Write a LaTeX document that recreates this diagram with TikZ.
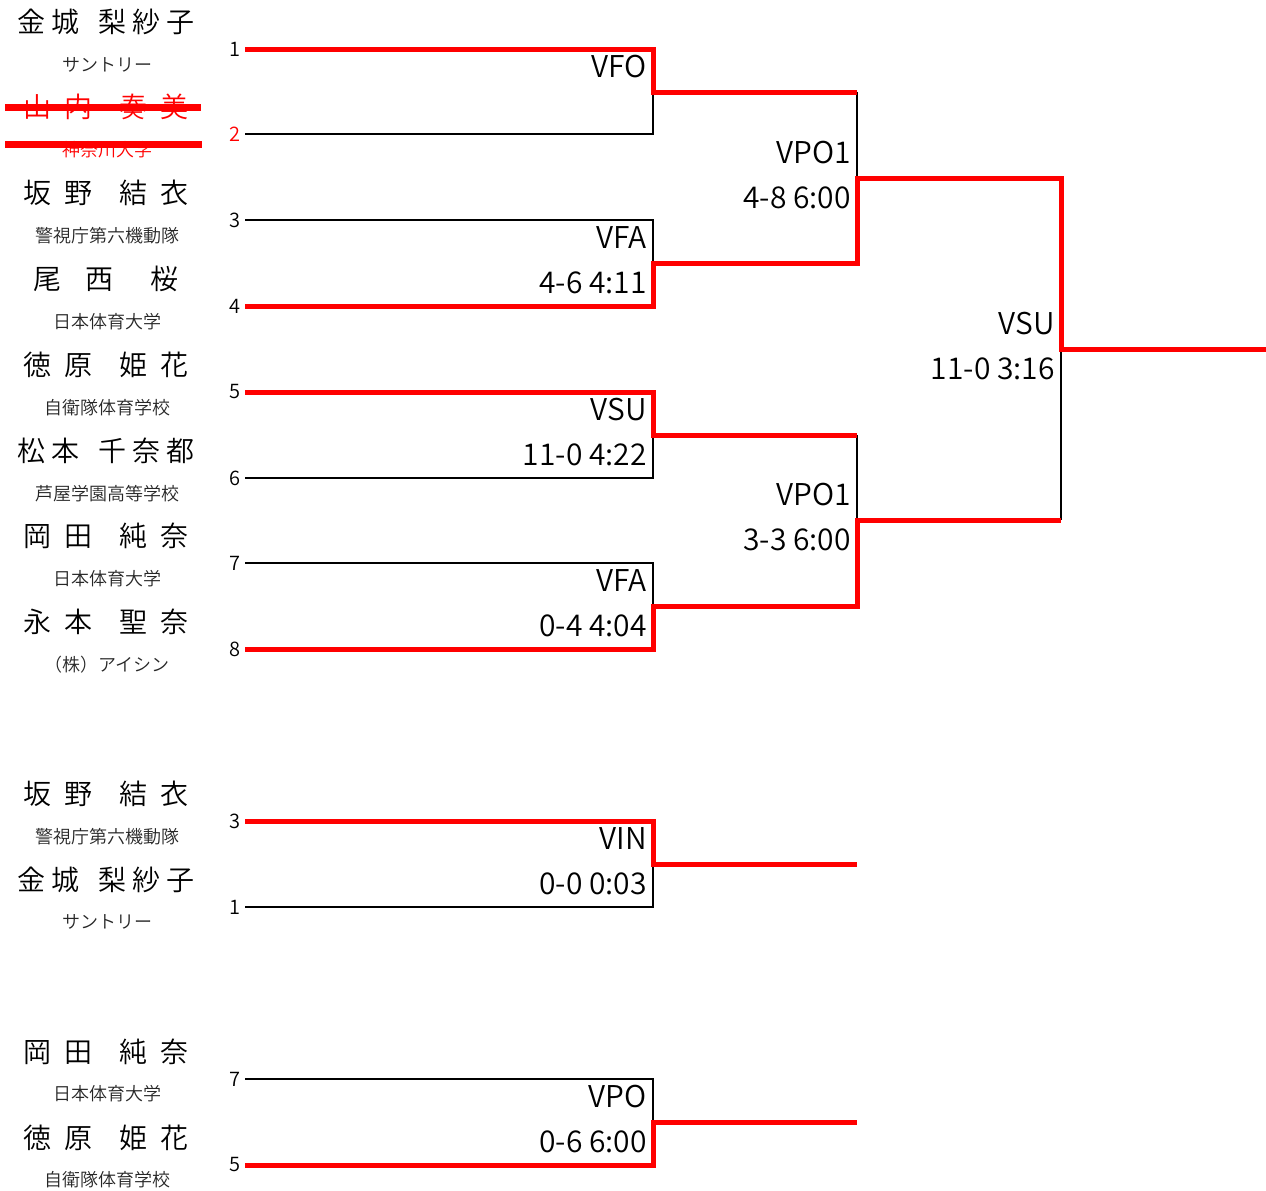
\documentclass[tikz,border=0pt]{standalone}
\usepackage{fontspec}
\IfFontExistsTF{Noto Sans CJK JP DemiLight}
  {\setmainfont{Noto Sans CJK JP DemiLight}}
  {\IfFontExistsTF{Noto Sans CJK JP Light}
     {\setmainfont{Noto Sans CJK JP Light}}
     {\setmainfont{Noto Sans CJK JP}}}
\usetikzlibrary{positioning}

\newcommand{\pn}[2]{\makebox[#1pt]{#2}}

\begin{document}
\begin{tikzpicture}[
        x=1pt, y=-1pt,
        node distance=4pt,
        pname/.style={font=\fontsize{28}{30}\selectfont, inner sep=0pt},
        club/.style={font=\fontsize{18}{20}\selectfont, inner sep=0pt, text=black!85},
        seed/.style={font=\fontsize{20}{22}\selectfont, inner sep=0pt},
        res/.style={font=\fontsize{30}{32}\selectfont, inner sep=0pt},
        lose/.style={line width=1.6pt, black},
        win/.style={line width=5pt, red},
        strike/.style={line width=7pt, red}
    ]
    \useasboundingbox (0,0) rectangle (1266,1191);

    % Slots
    \foreach \s/\y in {1/49, 2/134, 3/220, 4/306, 5/392, 6/478, 7/563, 8/649,
                       b3/821, b1/907, c7/1079, c5/1165} {
        \coordinate (s\s a) at (245,\y);
        \coordinate (s\s b) at (653,\y);
    }

    % Junctions
    \coordinate (m12) at (653,92);   \coordinate (e12) at (857,92);
    \coordinate (m34) at (653,263);  \coordinate (e34) at (857,263);
    \coordinate (m56) at (653,435);  \coordinate (e56) at (857,435);
    \coordinate (m78) at (653,606);  \coordinate (e78) at (857,606);
    \coordinate (sf1) at (857,178);  \coordinate (ef1) at (1061,178);
    \coordinate (sf2) at (857,520);  \coordinate (ef2) at (1061,520);
    \coordinate (fin) at (1061,349); \coordinate (champ) at (1266,349);
    \coordinate (mb) at (653,864);   \coordinate (eb) at (857,864);
    \coordinate (mc) at (653,1122);  \coordinate (ec) at (857,1122);

    % Players
    \node[pname] (p1) at (106,22) {\pn{178}{金\hfill 城\hfill\hfill\hfill 梨\hfill 紗\hfill 子}};
    \node[club] (c1) at (107,65) {サントリー};
    \node[pname, text=red] (p2) at (106,107) {\pn{165}{山\hfill 内\hfill\hfill 奏\hfill 美}};
    \node[club, text=red] (c2) at (107,150) {神奈川大学};
    \node[pname] (p3) at (106,193) {\pn{165}{坂\hfill 野\hfill\hfill 結\hfill 衣}};
    \node[club] (c3) at (107,236) {警視庁第六機動隊};
    \node[pname] (p4) at (106,279) {\pn{145}{尾\hfill 西\hskip 0pt plus 1.5fill 桜}};
    \node[club] (c4) at (107,322) {日本体育大学};
    \node[pname] (p5) at (106,365) {\pn{165}{徳\hfill 原\hfill\hfill 姫\hfill 花}};
    \node[club] (c5) at (107,408) {自衛隊体育学校};
    \node[pname] (p6) at (106,451) {\pn{178}{松\hfill 本\hfill\hfill\hfill 千\hfill 奈\hfill 都}};
    \node[club] (c6) at (107,494) {芦屋学園高等学校};
    \node[pname] (p7) at (106,536) {\pn{165}{岡\hfill 田\hfill\hfill 純\hfill 奈}};
    \node[club] (c7) at (107,579) {日本体育大学};
    \node[pname] (p8) at (106,622) {\pn{165}{永\hfill 本\hfill\hfill 聖\hfill 奈}};
    \node[club] (c8) at (107,665) {（株）アイシン};

    \node[pname] (pb3) at (106,794) {\pn{165}{坂\hfill 野\hfill\hfill 結\hfill 衣}};
    \node[club] (cb3) at (107,837) {警視庁第六機動隊};
    \node[pname] (pb1) at (106,880) {\pn{178}{金\hfill 城\hfill\hfill\hfill 梨\hfill 紗\hfill 子}};
    \node[club] (cb1) at (107,922) {サントリー};
    \node[pname] (pc7) at (106,1052) {\pn{165}{岡\hfill 田\hfill\hfill 純\hfill 奈}};
    \node[club] (cc7) at (107,1094) {日本体育大学};
    \node[pname] (pc5) at (106,1138) {\pn{165}{徳\hfill 原\hfill\hfill 姫\hfill 花}};
    \node[club] (cc5) at (107,1180) {自衛隊体育学校};

    % Withdrawn
    \draw[strike] (5,107) -- (201,107);
    \draw[strike] (5,144) -- (202,144);

    % Seeds
    \node[seed, left=of s1a] (n1) {1};
    \node[seed, left=of s2a, text=red] (n2) {2};
    \node[seed, left=of s3a] (n3) {3};
    \node[seed, left=of s4a] (n4) {4};
    \node[seed, left=of s5a] (n5) {5};
    \node[seed, left=of s6a] (n6) {6};
    \node[seed, left=of s7a] (n7) {7};
    \node[seed, left=of s8a] (n8) {8};
    \node[seed, left=of sb3a] (nb3) {3};
    \node[seed, left=of sb1a] (nb1) {1};
    \node[seed, left=of sc7a] (nc7) {7};
    \node[seed, left=of sc5a] (nc5) {5};

    % Lines
    \draw[lose] (s2a) -- (s2b) -- (m12);
    \draw[lose] (s3a) -- (s3b) -- (m34);
    \draw[lose] (e12) -- (sf1);
    \draw[lose] (s6a) -- (s6b) -- (m56);
    \draw[lose] (s7a) -- (s7b) -- (m78);
    \draw[lose] (e56) -- (sf2);
    \draw[lose] (ef2) -- (fin);
    \draw[lose] (sb1a) -- (sb1b) -- (mb);
    \draw[lose] (sc7a) -- (sc7b) -- (mc);

    \draw[win] (s1a) -- (s1b) -- (m12) -- (e12);
    \draw[win] (s4a) -- (s4b) -- (m34) -- (e34) -- (sf1) -- (ef1) -- (fin) -- (champ);
    \draw[win] (s5a) -- (s5b) -- (m56) -- (e56);
    \draw[win] (s8a) -- (s8b) -- (m78) -- (e78) -- (sf2) -- (ef2);
    \draw[win] (sb3a) -- (sb3b) -- (mb) -- (eb);
    \draw[win] (sc5a) -- (sc5b) -- (mc) -- (ec);

    % Results
    \node[res, above left=14pt and 6pt of m12] (r12a) {VFO};
    \node[res, above left=14pt and 6pt of m34] (r34a) {VFA};
    \node[res, below left=9pt and 6pt of m34] (r34b) {4-6 4:11};
    \node[res, above left=14pt and 6pt of m56] (r56a) {VSU};
    \node[res, below left=9pt and 6pt of m56] (r56b) {11-0 4:22};
    \node[res, above left=14pt and 6pt of m78] (r78a) {VFA};
    \node[res, below left=9pt and 6pt of m78] (r78b) {0-4 4:04};
    \node[res, above left=14pt and 6pt of sf1] (rf1a) {VPO1};
    \node[res, below left=9pt and 6pt of sf1] (rf1b) {4-8 6:00};
    \node[res, above left=14pt and 6pt of sf2] (rf2a) {VPO1};
    \node[res, below left=9pt and 6pt of sf2] (rf2b) {3-3 6:00};
    \node[res, above left=14pt and 6pt of fin] (rfa) {VSU};
    \node[res, below left=9pt and 6pt of fin] (rfb) {11-0 3:16};
    \node[res, above left=14pt and 6pt of mb] (rba) {VIN};
    \node[res, below left=9pt and 6pt of mb] (rbb) {0-0 0:03};
    \node[res, above left=14pt and 6pt of mc] (rca) {VPO};
    \node[res, below left=9pt and 6pt of mc] (rcb) {0-6 6:00};

\end{tikzpicture}
\end{document}
